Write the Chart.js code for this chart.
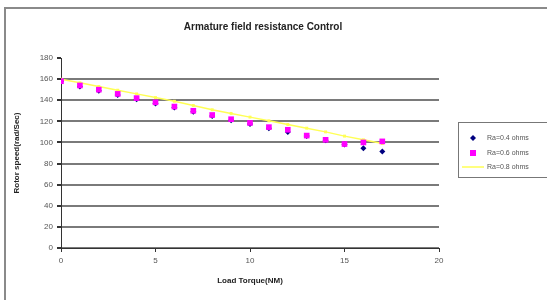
<!DOCTYPE html>
<html>
<head>
<meta charset="utf-8">
<script src="https://cdn.jsdelivr.net/npm/chart.js@4.4.1/dist/chart.umd.min.js"></script>
<style>
  html, body { margin: 0; padding: 0; background: #fff; }
  #wrap { width: 547px; height: 300px; position: relative; }
</style>
</head>
<body>
<div id="wrap"><canvas id="myChart" width="547" height="300"></canvas></div>
<script>
// load torque (NM)
var torque = [0, 1, 2, 3, 4, 5, 6, 7, 8, 9, 10, 11, 12, 13, 14, 15, 16, 17];
// rotor speed for each armature resistance
var ra04 = [158, 153, 149, 145, 141, 137, 133, 129, 125, 121, 117.5, 113.5, 110, 106, 102, 98, 94.5, 91.5];
var ra06 = [158, 154, 150, 146, 142, 138, 134, 130, 126, 122, 118.5, 114.5, 112, 106.5, 102.5, 98.5, 100, 101];
var ra08 = [160, 156.5, 153, 149.5, 146, 142.5, 139, 135, 131, 127.5, 124, 120.5, 117, 113.5, 110, 106, 102.5, 99];
var seriesNames = ["Ra=0.4 ohms", "Ra=0.6 ohms", "Ra=0.8 ohms"];
var xTicks = [0, 5, 10, 15, 20];
var yTicks = [0, 20, 40, 60, 80, 100, 120, 140, 160, 180];

function pts(ys) {
  return torque.map(function (x, i) { return { x: x, y: ys[i] }; });
}

var font = "'Liberation Sans', Arial, sans-serif";

// frame, title and legend like the old spreadsheet chart
var extras = {
  id: "extras",
  beforeDraw: function (chart) {
    var c = chart.ctx;
    c.save();
    c.strokeStyle = "#8a8a8a";
    c.lineWidth = 2;
    c.beginPath();
    c.moveTo(5, 300);
    c.lineTo(5, 8);
    c.lineTo(547, 8);
    c.stroke();
    c.restore();
  },
  afterDraw: function (chart) {
    var c = chart.ctx;
    c.save();
    c.fillStyle = "#222";
    c.font = "bold 10px " + font;
    c.textAlign = "center";
    c.textBaseline = "middle";
    c.fillText("Armature field resistance Control", 263, 27);

    // legend box
    c.strokeStyle = "#777";
    c.lineWidth = 1;
    c.strokeRect(458.5, 122.5, 90, 55);
    c.font = "7px " + font;
    c.textAlign = "left";
    var ys = [138, 153, 167];
    chart.data.datasets.forEach(function (ds, i) {
      var y = ys[i];
      if (i === 0) {
        c.fillStyle = "#000080";
        c.beginPath();
        c.moveTo(473, y - 3); c.lineTo(476, y); c.lineTo(473, y + 3); c.lineTo(470, y);
        c.closePath(); c.fill();
      } else if (i === 1) {
        c.fillStyle = "#ff00ff";
        c.fillRect(470, y - 3, 6, 6);
      } else {
        c.strokeStyle = "#ffff55";
        c.lineWidth = 1.5;
        c.beginPath(); c.moveTo(462, y); c.lineTo(484, y); c.stroke();
      }
      c.fillStyle = "#555";
      c.fillText(ds.label, 487, y);
    });
    c.restore();
  }
};

var ctx = document.getElementById("myChart");
var myChart = new Chart(ctx, {
  type: "scatter",
  data: {
    datasets: [
      {
        label: seriesNames[0],
        data: pts(ra04),
        order: 2,
        pointStyle: "rectRot",
        pointRadius: 3,
        backgroundColor: "#000080",
        borderColor: "#000080",
        borderWidth: 0,
        showLine: false
      },
      {
        label: seriesNames[1],
        data: pts(ra06),
        order: 0,
        pointStyle: "rect",
        pointRadius: 4,
        backgroundColor: "#ff00ff",
        borderColor: "#ff00ff",
        borderWidth: 0,
        showLine: false
      },
      {
        label: seriesNames[2],
        data: pts(ra08),
        order: 1,
        showLine: true,
        borderColor: "#ffff55",
        backgroundColor: "#ffff55",
        borderWidth: 1.5,
        pointRadius: 1,
        pointStyle: "rect",
        tension: 0
      }
    ]
  },
  options: {
    responsive: false,
    animation: false,
    layout: { padding: { left: 8, top: 58, right: 108, bottom: 10 } },
    plugins: {
      legend: { display: false },
      title: { display: false },
      tooltip: { enabled: false }
    },
    scales: {
      x: {
        type: "linear",
        min: 0,
        max: 20,
        afterBuildTicks: function (s) { s.ticks = xTicks.map(function (v) { return { value: v }; }); },
        grid: { drawOnChartArea: false, drawTicks: true, tickLength: 4, color: "#333" },
        border: { color: "#333", width: 1 },
        ticks: { color: "#555", font: { size: 8, family: font }, padding: 4 },
        title: { display: true, text: "Load Torque(NM)", color: "#222", font: { size: 8, weight: "bold", family: font }, padding: { top: 6 } },
        afterFit: function (s) { s.height = 42; }
      },
      y: {
        type: "linear",
        min: 0,
        max: 180,
        afterBuildTicks: function (s) { s.ticks = yTicks.map(function (v) { return { value: v }; }); },
        grid: {
          drawTicks: true,
          tickLength: 4,
          color: function (c) { return c.tick && c.tick.value === 180 ? "rgba(0,0,0,0)" : "#7a7a7a"; },
          tickColor: "#333",
          lineWidth: 2
        },
        border: { color: "#333", width: 1 },
        ticks: { color: "#555", font: { size: 8, family: font }, padding: 4 },
        title: { display: true, text: "Rotor speed(rad/Sec)", color: "#222", font: { size: 8, weight: "bold", family: font }, padding: { bottom: 8 } },
        afterFit: function (s) { s.width = 53; }
      }
    }
  },
  plugins: [extras]
});
</script>
</body>
</html>
